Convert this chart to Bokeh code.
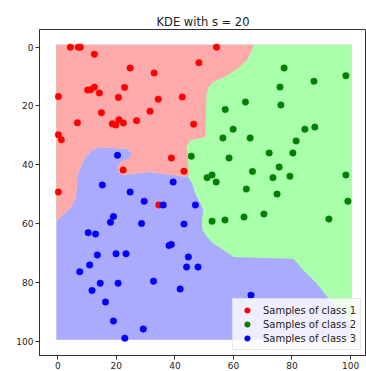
from bokeh.plotting import figure
from bokeh.models import Range1d
from bokeh.embed import file_html
from bokeh.resources import INLINE

# ---------------- data ----------------
title_text = "KDE with s = 20"
tick_values = [0, 20, 40, 60, 80, 100]

class1_x = [4.3, 7.0, 7.7, 12.5, 54.2, 48.2, 24.7, 32.9, 10.2, 11.2, 12.5, 14.2, 22.8, 20.7, 0.2,
            34.3, 42.5, 14.9, 31.5, 6.7, 18.6, 19.8, 20.9, 22.4, 26.9, 46.4, 0.2, 1.2, 38.8, 22.3,
            43.1, 0.2, 34.5]
class1_y = [0.0, 0.0, 0.0, 2.4, 0.0, 5.3, 7.1, 8.8, 14.6, 14.5, 13.6, 15.6, 13.7, 17.1, 16.8,
            17.7, 17.0, 22.3, 21.8, 25.7, 26.1, 26.5, 24.7, 25.8, 25.0, 26.2, 29.8, 31.5, 37.7, 41.8,
            42.2, 49.3, 53.7]

class2_x = [77.3, 98.4, 87.5, 75.9, 64.1, 76.2, 57.2, 59.9, 84.4, 87.8, 56.4, 65.7, 81.4, 45.6,
            58.5, 72.2, 80.3, 75.6, 66.5, 51.0, 52.7, 54.1, 73.5, 79.3, 98.4, 64.4, 74.9, 99.1,
            70.4, 63.6, 57.1, 52.7, 92.6]
class2_y = [7.1, 9.7, 11.6, 13.6, 18.7, 19.7, 21.2, 27.9, 27.9, 27.2, 30.9, 30.9, 31.9, 37.1,
            37.7, 36.0, 36.0, 40.8, 42.3, 44.4, 43.5, 45.9, 44.4, 43.9, 43.5, 48.3, 50.0, 52.4,
            56.8, 57.8, 58.8, 59.2, 58.5]

class3_x = [20.4, 39.4, 15.2, 24.7, 29.5, 36.0, 47.0, 19.0, 18.0, 28.6, 43.1, 10.4, 12.9, 38.0,
            38.8, 13.5, 19.9, 23.3, 44.6, 10.9, 7.5, 44.0, 47.9, 11.7, 14.5, 20.6, 32.7, 41.8,
            66.0, 16.3, 19.0, 29.2, 22.9]
class3_y = [36.8, 45.9, 46.9, 49.3, 52.4, 53.7, 53.7, 57.6, 59.6, 60.0, 60.2, 63.1, 63.6, 67.5,
            67.1, 70.7, 70.3, 70.3, 71.4, 74.1, 76.4, 74.8, 74.8, 82.8, 80.3, 80.3, 79.6, 82.3,
            84.4, 86.7, 93.2, 95.9, 99.0]

# extent of the decision map [x0, x1, y0, y1]
map_extent = [-0.5, 100.5, -0.8, 99.5]

# class 1 / class 2 boundary (top edge -> triple point)
rg_x = [66.9, 66.3, 64.6, 61.8, 58.9, 56.2, 53.2, 51.5, 50.8, 50.4, 45.3, 43.9, 44.2, 44.5, 44.7, 44.5]
rg_y = [-0.8, 1.1, 4.5, 6.9, 9.0, 10.5, 11.7, 13.6, 15.9, 30.6, 31.7, 34.0, 36.3, 40.0, 43.1, 44.2]

# class 1 / class 3 boundary (left edge -> triple point)
rb_x = [-0.5, 0.9, 4.0, 6.0, 6.6, 6.6, 7.7, 9.1, 11.7, 13.4, 16.9, 23.7, 25.4, 24.2, 21.4, 20.3,
        20.8, 22.5, 25.9, 31.6, 35.1, 39.6, 44.5]
rb_y = [59.5, 57.8, 55.0, 51.8, 47.0, 44.0, 41.3, 37.9, 35.1, 34.3, 34.2, 34.6, 36.3, 38.0, 39.2, 40.6,
        42.5, 43.6, 43.1, 42.5, 43.1, 43.6, 44.2]

# class 2 / class 3 boundary (triple point -> right edge)
gb_x = [44.5, 45.9, 47.0, 48.7, 49.7, 49.2, 49.4, 51.0, 53.2, 56.7, 60.1, 70.3, 80.5, 84.0, 88.5, 93.1, 100.5]
gb_y = [44.2, 46.5, 49.9, 53.2, 55.5, 58.9, 62.3, 64.6, 66.9, 69.1, 71.4, 71.7, 72.0, 76.0, 80.5, 86.2, 94.5]

region_colors = ["#AAAAFF", "#AAFFAA", "#FFAAAA"]
point_colors = ["#FF0000", "#008000", "#0000FF"]
legend_labels = ["Samples of class 1", "Samples of class 2", "Samples of class 3"]

# ---------------- figure ----------------
p = figure(width=366, height=371, output_backend="svg", toolbar_location=None,
           x_range=Range1d(-6.25, 105.45), y_range=Range1d(104.9, -6.0),
           min_border_left=39, min_border_right=0, min_border_top=29, min_border_bottom=16)

p.title.text = title_text
p.title.align = "center"
p.title.text_font = "DejaVu Sans"
p.title.text_font_size = "11.5px"
p.title.text_font_style = "normal"
p.title.text_color = "#222222"
p.title.standoff = 2

x0, x1, y0, y1 = map_extent

# class 3 (blue) background: the whole map
p.quad(left=[x0], right=[x1], top=[y0], bottom=[y1], fill_color=region_colors[0],
       line_color=None)

# class 2 (green): everything that is not class 3
green_xs = [x0, x1, x1] + gb_x[::-1][1:] + rb_x[::-1][1:]
green_ys = [y0, y0, gb_y[-1]] + gb_y[::-1][1:] + rb_y[::-1][1:]
p.patch(green_xs, green_ys, fill_color=region_colors[1], line_color=None)

# class 1 (red)
red_xs = [x0] + rg_x + rb_x[::-1][1:]
red_ys = [y0] + rg_y + rb_y[::-1][1:]
p.patch(red_xs, red_ys, fill_color=region_colors[2], line_color=None)

# samples
for xs, ys, c, lab in [(class1_x, class1_y, point_colors[0], legend_labels[0]),
                       (class2_x, class2_y, point_colors[1], legend_labels[1]),
                       (class3_x, class3_y, point_colors[2], legend_labels[2])]:
    p.scatter(xs, ys, size=6.5, fill_color=c, line_color=c, line_width=0.5,
              legend_label=lab)

# axes styling
for ax in (p.xaxis[0], p.yaxis[0]):
    ax.ticker = tick_values
    ax.minor_tick_line_color = None
    ax.major_tick_in = 0
    ax.major_tick_out = 4
    ax.major_tick_line_color = "#333333"
    ax.axis_line_color = "#333333"
    ax.major_label_text_font = "DejaVu Sans"
    ax.major_label_text_font_size = "9px"
    ax.major_label_text_color = "#222222"
    ax.major_label_standoff = 2

p.xgrid.visible = False
p.ygrid.visible = False
p.outline_line_color = "#333333"
p.background_fill_color = "white"
p.border_fill_color = "white"

lg = p.legend[0]
lg.location = "bottom_right"
lg.margin = 5
lg.padding = 4
lg.spacing = 0
lg.glyph_width = 20
lg.glyph_height = 14
lg.label_height = 14
lg.label_standoff = 6
lg.label_text_font = "DejaVu Sans"
lg.label_text_font_size = "10px"
lg.label_text_color = "#222222"
lg.background_fill_color = "white"
lg.background_fill_alpha = 0.8
lg.border_line_color = "#cccccc"
lg.border_line_width = 1

open("out.html", "w").write(file_html(p, INLINE))
